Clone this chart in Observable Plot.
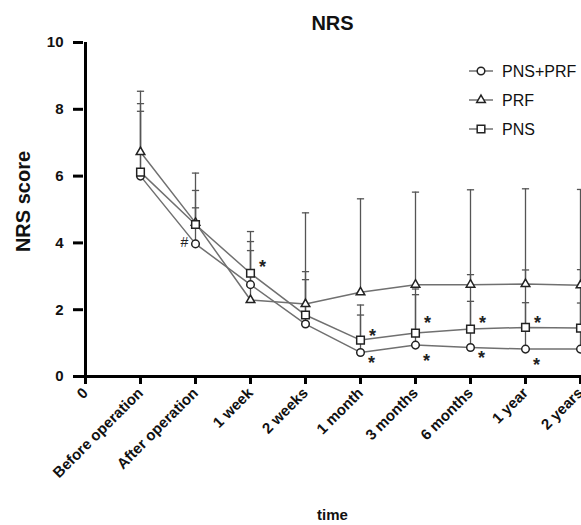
<!DOCTYPE html>
<html>
<head>
<meta charset="utf-8">
<script src="https://cdn.jsdelivr.net/npm/d3@7"></script>
<script src="https://cdn.jsdelivr.net/npm/@observablehq/plot@0.6"></script>
<style>
  html, body { margin: 0; padding: 0; background: white; overflow: hidden; }
  #wrap { position: relative; width: 581px; height: 525px; }
  #legend { position: absolute; left: 0; top: 0; pointer-events: none; }
</style>
</head>
<body>
<div id="wrap"></div>
<script>
// ---- data ----
const categories = ["0", "Before operation", "After operation", "1 week", "2 weeks", "1 month", "3 months", "6 months", "1 year", "2 years"];
const timepoints = categories.slice(1);
const seriesNames = ["PNS+PRF", "PRF", "PNS"];
const yTicks = [0, 2, 4, 6, 8, 10];

const pnsPrfMean  = [6.00, 3.97, 2.75, 1.57, 0.72, 0.94, 0.87, 0.82, 0.82];
const pnsPrfUpper = [7.94, 5.05, 3.77, 2.90, 1.84, 2.45, 2.25, 2.21, 2.20];
const prfMean     = [6.72, 4.60, 2.29, 2.17, 2.52, 2.75, 2.75, 2.77, 2.73];
const prfUpper    = [8.54, 6.09, 4.04, 4.90, 5.32, 5.52, 5.59, 5.62, 5.60];
const pnsMean     = [6.12, 4.55, 3.09, 1.84, 1.09, 1.30, 1.42, 1.47, 1.45];
const pnsUpper    = [8.17, 5.57, 4.34, 3.14, 2.14, 2.62, 3.05, 3.19, 3.20];

// significance markers: "*" (upper = PNS, lower = PNS+PRF), "#" after operation
const starUpperTime = ["1 week", "1 month", "3 months", "6 months", "1 year"];
const starUpperY    = [3.42, 1.35, 1.74, 1.74, 1.74];
const starLowerTime = ["1 month", "3 months", "6 months", "1 year"];
const starLowerY    = [0.54, 0.62, 0.71, 0.49];
const hashTime = ["After operation"];
const hashY = [4.02];

// ---- tables ----
const means = {"PNS+PRF": pnsPrfMean, "PRF": prfMean, "PNS": pnsMean};
const uppers = {"PNS+PRF": pnsPrfUpper, "PRF": prfUpper, "PNS": pnsUpper};
const table = seriesNames.flatMap(s => timepoints.map((t, i) => ({series: s, time: t, mean: means[s][i], upper: uppers[s][i]})));
const starsUp = starUpperTime.map((t, i) => ({time: t, y: starUpperY[i]}));
const starsLow = starLowerTime.map((t, i) => ({time: t, y: starLowerY[i]}));
const hashes = hashTime.map((t, i) => ({time: t, y: hashY[i]}));

const font = "Liberation Sans, Arial, Helvetica, sans-serif";
const capSymbol = { draw(context, size) { const r = Math.sqrt(size / Math.PI); context.moveTo(-r, 0); context.lineTo(r, 0); } };
const symbols = {"PNS+PRF": "circle", "PRF": "triangle", "PNS": "square"};
const radii = {"PNS+PRF": 3.8, "PRF": 3.2, "PNS": 4.3};
const lineColor = "#707070";
const errColor = "#555";
const markerStroke = "#222";

const seriesDots = seriesNames.map(s => Plot.dot(table.filter(d => d.series === s), {
  x: "time", y: "mean", symbol: () => symbols[s], r: radii[s],
  fill: "white", stroke: markerStroke, strokeWidth: 1.5
}));

const chart = Plot.plot({
  width: 581,
  height: 525,
  marginTop: 42,
  marginBottom: 149,
  marginLeft: 83,
  marginRight: 0,
  style: {fontFamily: font, background: "white", overflow: "hidden"},
  x: {type: "point", domain: categories, padding: 0},
  y: {domain: [0, 10]},
  symbol: {type: "identity"},
  marks: [
    // error bars
    Plot.ruleX(table, {x: "time", y1: "mean", y2: "upper", stroke: errColor, strokeWidth: 1.3}),
    Plot.dot(table, {x: "time", y: "upper", symbol: capSymbol, r: 3.6, fill: "none", stroke: errColor, strokeWidth: 1.3}),
    // lines
    Plot.line(table, {x: "time", y: "mean", z: "series", stroke: lineColor, strokeWidth: 1.5}),
    ...seriesDots,
    // significance markers
    Plot.text(starsUp, {x: "time", y: "y", text: () => "*", dx: 12, dy: 5, fontSize: 18, fontWeight: "bold", fill: "#222"}),
    Plot.text(starsLow, {x: "time", y: "y", text: () => "*", dx: 11, dy: 5, fontSize: 18, fontWeight: "bold", fill: "#222"}),
    Plot.text(hashes, {x: "time", y: "y", text: () => "#", dx: -11, fontSize: 14, fill: "#222"}),
    // axes
    Plot.ruleY([0], {stroke: "black", strokeWidth: 3}),
    Plot.ruleX([categories[0]], {x: d => d, y1: yTicks[0], y2: yTicks[yTicks.length - 1], stroke: "black", strokeWidth: 3}),
    Plot.axisY({ticks: yTicks, tickSize: 10, tickPadding: 10, fontSize: 15, fontWeight: "bold", strokeWidth: 3, label: null, fill: "#111", stroke: "black"}),
    Plot.axisX({tickRotate: -45, tickSize: 8, tickPadding: 6, fontSize: 15, fontWeight: "bold", strokeWidth: 3, label: null, fill: "#111", stroke: "black"}),
    // titles
    Plot.text(["NRS"], {frameAnchor: "top", text: d => d, lineAnchor: "middle", textAnchor: "middle", dy: -19, fontSize: 20, fontWeight: "bold", fill: "#111"}),
    Plot.text(["NRS score"], {frameAnchor: "left", text: d => d, textAnchor: "middle", lineAnchor: "middle", rotate: -90, dx: -60, dy: -8, fontSize: 20, fontWeight: "bold", fill: "#111"}),
    Plot.text(["time"], {frameAnchor: "bottom", text: d => d, lineAnchor: "middle", textAnchor: "middle", dy: 139, fontSize: 15, fontWeight: "bold", fill: "#111"})
  ]
});

const wrap = document.getElementById("wrap");
wrap.appendChild(chart);

// ---- legend ----
const legend = d3.select(wrap).append("svg")
  .attr("id", "legend").attr("width", 581).attr("height", 525);
const d3sym = {"circle": d3.symbolCircle, "triangle": d3.symbolTriangle, "square": d3.symbolSquare};
const items = legend.selectAll("g").data(seriesNames).join("g")
  .attr("transform", (d, i) => `translate(481, ${71 + i * 29})`);
items.append("line").attr("x1", -12).attr("x2", 12).attr("stroke", lineColor).attr("stroke-width", 1.5);
items.append("path")
  .attr("d", d => d3.symbol(d3sym[symbols[d]], Math.PI * radii[d] * radii[d])())
  .attr("fill", "white").attr("stroke", markerStroke).attr("stroke-width", 1.5);
items.append("text").attr("x", 21).attr("dy", "0.35em")
  .attr("font-family", font).attr("font-size", 16).attr("fill", "#111")
  .text(d => d);
</script>
</body>
</html>
